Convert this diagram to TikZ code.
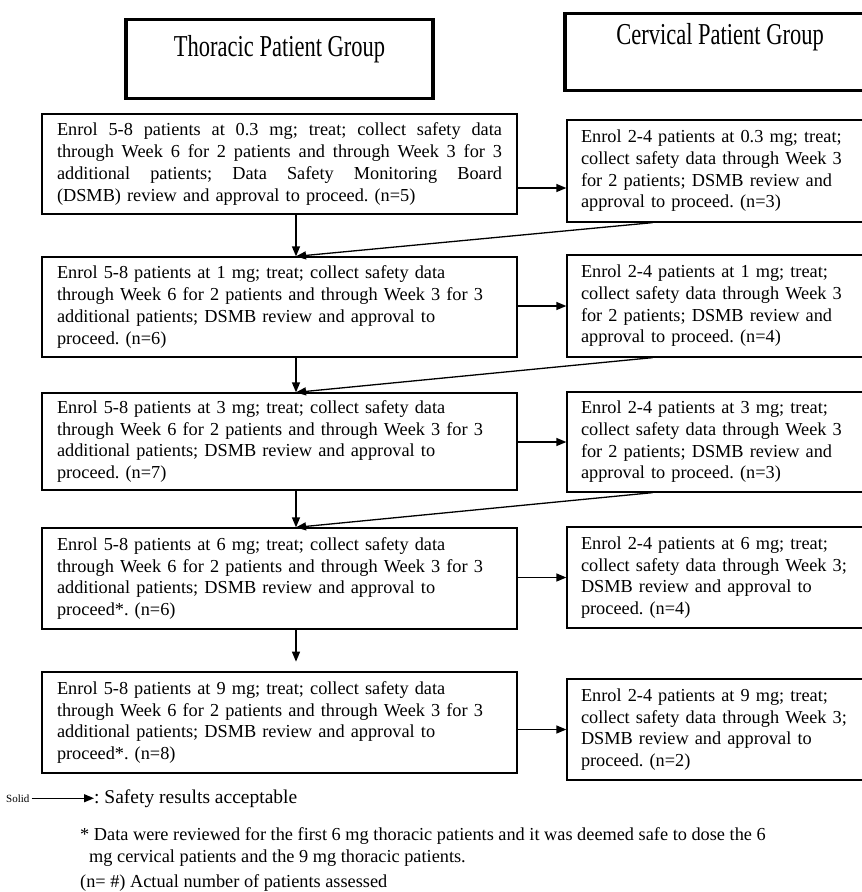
\documentclass[tikz,border=0pt]{standalone}
\usepackage{fontspec}
\setmainfont{Liberation Serif}
\usetikzlibrary{arrows.meta}
\frenchspacing
\newcommand{\fullline}[1]{\makebox[445pt][s]{\spaceskip=0.25em plus 1fil\relax #1}}

\begin{document}
\begin{tikzpicture}[x=1pt,y=-1pt,
    every node/.style={font=\fontsize{18.3}{21.7}\selectfont},
    head/.style={draw,line width=3.2pt,inner sep=0pt,font=\fontsize{22.5}{27}\selectfont},
    tbox/.style={draw,line width=1.3pt,text width=445pt,inner xsep=15pt,align=left},
    cbox/.style={draw,line width=1.3pt,text width=275pt,inner xsep=14pt,align=left},
    arr/.style={line width=1.3pt,-{Triangle[length=10pt,width=8pt]}}]
        \useasboundingbox (0,0) rectangle (862,892);

        % group headers
        \node[head,minimum width=307pt,text height=37pt,text depth=42pt,anchor=north] (thor) at (279.5,18)
            {\scalebox{1}[1.35]{Thoracic Patient Group}};
        \node[head,minimum width=310pt,text height=31pt,text depth=46pt,anchor=north] (cerv) at (720,12)
            {\scalebox{1}[1.35]{Cervical Patient Group}};

        % thoracic steps
        \node[tbox,minimum height=100pt] (l1) at (279.5,164) {
            \fullline{Enrol 5-8 patients at 0.3 mg; treat; collect safety data}\\
            \fullline{through Week 6 for 2 patients and through Week 3 for 3}\\
            \fullline{additional patients; Data Safety Monitoring Board}\\
            (DSMB) review and approval to proceed. (n=5)};
        \node[tbox,minimum height=100pt] (l2) at (279.5,307) {
            Enrol 5-8 patients at 1 mg; treat; collect safety data\\
            through Week 6 for 2 patients and through Week 3 for 3\\
            additional patients; DSMB review and approval to\\
            proceed. (n=6)};
        \node[tbox,minimum height=97pt] (l3) at (279.5,441.5) {
            Enrol 5-8 patients at 3 mg; treat; collect safety data\\
            through Week 6 for 2 patients and through Week 3 for 3\\
            additional patients; DSMB review and approval to\\
            proceed. (n=7)};
        \node[tbox,minimum height=101pt] (l4) at (279.5,578.5) {
            Enrol 5-8 patients at 6 mg; treat; collect safety data\\
            through Week 6 for 2 patients and through Week 3 for 3\\
            additional patients; DSMB review and approval to\\
            proceed*. (n=6)};
        \node[tbox,minimum height=101pt] (l5) at (279.5,722.5) {
            Enrol 5-8 patients at 9 mg; treat; collect safety data\\
            through Week 6 for 2 patients and through Week 3 for 3\\
            additional patients; DSMB review and approval to\\
            proceed*. (n=8)};

        % cervical steps
        \node[cbox,minimum height=102pt] (r1) at (718.5,171) {
            Enrol 2-4 patients at 0.3 mg; treat;\\
            collect safety data through Week 3\\
            for 2 patients; DSMB review and\\
            approval to proceed. (n=3)};
        \node[cbox,minimum height=102pt] (r2) at (718.5,306) {
            Enrol 2-4 patients at 1 mg; treat;\\
            collect safety data through Week 3\\
            for 2 patients; DSMB review and\\
            approval to proceed. (n=4)};
        \node[cbox,minimum height=100pt] (r3) at (718.5,442) {
            Enrol 2-4 patients at 3 mg; treat;\\
            collect safety data through Week 3\\
            for 2 patients; DSMB review and\\
            approval to proceed. (n=3)};
        \node[cbox,minimum height=101pt] (r4) at (718.5,577.5) {
            Enrol 2-4 patients at 6 mg; treat;\\
            collect safety data through Week 3;\\
            DSMB review and approval to\\
            proceed. (n=4)};
        \node[cbox,minimum height=101pt] (r5) at (718.5,729.5) {
            Enrol 2-4 patients at 9 mg; treat;\\
            collect safety data through Week 3;\\
            DSMB review and approval to\\
            proceed. (n=2)};

        % arrows
        \coordinate (mid) at (296,0);
        \draw[arr] ([yshift=-24pt]l1.east) -- ([yshift=-17pt]r1.west);
        \draw[arr] (r2.west -| l2.east) -- (r2.west);
        \draw[arr] (r3.west -| l3.east) -- (r3.west);
        \draw[arr] (r4.west -| l4.east) -- (r4.west);
        \draw[arr] (r5.west -| l5.east) -- (r5.west);

        \draw[arr] (l1.south -| mid) -- (l2.north -| mid);
        \draw[arr] (l2.south -| mid) -- (l3.north -| mid);
        \draw[arr] (l3.south -| mid) -- (l4.north -| mid);
        \draw[arr] (l4.south -| mid) -- ++(0,32);

        \draw[arr] ([xshift=-66pt]r1.south) -- (l2.north -| mid);
        \draw[arr] ([xshift=-66pt]r2.south) -- (l3.north -| mid);
        \draw[arr] ([xshift=-66pt]r3.south) -- (l4.north -| mid);

        % legend and notes
        \node[anchor=base west,inner sep=0pt,font=\fontsize{11}{13}\selectfont] (solid) at (6,802) {Solid};
        \node[anchor=base west,inner sep=0pt,font=\fontsize{19.5}{22}\selectfont] (safe) at (94,803) {: Safety results acceptable};
        \draw[arr] (solid.east) ++(2,0) -- (solid.east -| safe.west);
        \node[anchor=base west,inner sep=0pt] (note1) at (80,840)
            {* Data were reviewed for the first 6 mg thoracic patients and it was deemed safe to dose the 6};
        \node[anchor=base west,inner sep=0pt] (note2) at (89,862)
            {mg cervical patients and the 9 mg thoracic patients.};
        \node[anchor=base west,inner sep=0pt] (count) at (80,887) {(n= \#) Actual number of patients assessed};
    \end{tikzpicture}
\end{document}
